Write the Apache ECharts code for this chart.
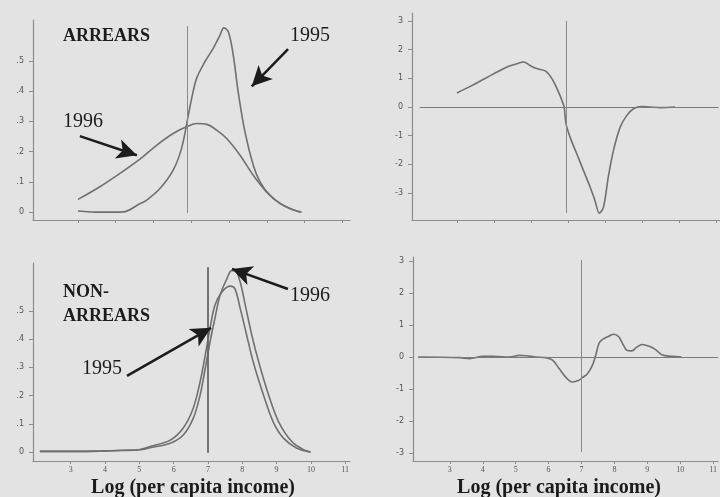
<!DOCTYPE html>
<html>
<head>
<meta charset="utf-8">
<script src="https://cdn.jsdelivr.net/npm/echarts@6/dist/echarts.min.js"></script>
<style>
  html, body { margin: 0; padding: 0; background: #e3e3e3; }
  #main { width: 720px; height: 497px; }
</style>
</head>
<body>
<div id="main"></div>
<script>
// density of log per capita income, [x, density]
var arrears1995 = [[3.0,0.004],[3.6,0.0],[4.2,0.001],[4.6,0.025],[4.82,0.04],[5.17,0.078],[5.52,0.139],[5.74,0.21],[5.92,0.32],[6.01,0.376],[6.14,0.442],[6.36,0.497],[6.58,0.541],[6.76,0.585],[6.86,0.609],[6.98,0.596],[7.11,0.519],[7.24,0.398],[7.42,0.265],[7.64,0.155],[7.82,0.1],[8.08,0.056],[8.43,0.023],[8.87,0.0]];
var arrears1996 = [[3.0,0.042],[3.58,0.084],[4.11,0.128],[4.64,0.175],[5.08,0.221],[5.52,0.26],[5.88,0.282],[6.14,0.293],[6.41,0.29],[6.67,0.271],[6.93,0.244],[7.29,0.188],[7.64,0.122],[7.99,0.067],[8.34,0.029],[8.7,0.007],[8.92,0.0]];
// 1996 minus 1995
var arrearsDiff = [[3.0,0.049],[3.36,0.072],[3.72,0.097],[4.08,0.122],[4.35,0.14],[4.62,0.151],[4.8,0.157],[4.97,0.145],[5.15,0.134],[5.38,0.126],[5.56,0.099],[5.74,0.052],[5.83,0.023],[5.89,0.0],[5.94,-0.058],[6.05,-0.105],[6.23,-0.163],[6.41,-0.221],[6.59,-0.279],[6.72,-0.326],[6.84,-0.37],[6.95,-0.349],[7.08,-0.244],[7.22,-0.151],[7.4,-0.07],[7.58,-0.029],[7.76,-0.006],[7.98,0.002],[8.21,0.0],[8.48,-0.002],[8.88,0.0]];

var nonArrears1995 = [[2.1,0.002],[3.0,0.002],[3.85,0.003],[4.5,0.006],[5.02,0.009],[5.31,0.019],[5.9,0.042],[6.28,0.085],[6.57,0.155],[6.77,0.248],[6.92,0.343],[7.06,0.438],[7.2,0.519],[7.4,0.566],[7.64,0.588],[7.78,0.58],[7.94,0.509],[8.13,0.413],[8.32,0.319],[8.62,0.201],[8.9,0.107],[9.2,0.049],[9.58,0.014],[9.97,0.0]];
var nonArrears1996 = [[2.1,0.002],[3.0,0.002],[3.85,0.003],[4.5,0.005],[5.02,0.008],[5.31,0.015],[5.9,0.031],[6.28,0.06],[6.57,0.119],[6.77,0.201],[6.92,0.296],[7.06,0.39],[7.2,0.472],[7.35,0.555],[7.55,0.614],[7.69,0.643],[7.79,0.643],[7.94,0.602],[8.09,0.519],[8.28,0.413],[8.48,0.319],[8.77,0.201],[9.06,0.107],[9.45,0.036],[9.84,0.005],[10.0,0.0]];
var nonArrearsDiff = [[2.04,0.0],[3.3,-0.002],[3.6,-0.005],[4.0,0.002],[4.31,0.002],[4.81,0.0],[5.11,0.005],[5.31,0.004],[5.62,0.0],[5.92,-0.002],[6.12,-0.01],[6.32,-0.036],[6.52,-0.063],[6.72,-0.078],[6.92,-0.073],[7.02,-0.065],[7.18,-0.052],[7.33,-0.026],[7.43,0.005],[7.53,0.042],[7.63,0.054],[7.83,0.065],[7.98,0.071],[8.13,0.063],[8.28,0.036],[8.38,0.021],[8.53,0.019],[8.68,0.031],[8.84,0.039],[9.04,0.034],[9.24,0.024],[9.44,0.007],[9.74,0.002],[10.04,0.0]];

// tick positions
var topXTicks = [3, 4, 5, 6, 7, 8, 9, 10];
var bottomXTicks = [3, 4, 5, 6, 7, 8, 9, 10, 11];
var densityTicks = [0, 0.1, 0.2, 0.3, 0.4, 0.5];
var diffTicks = [-0.3, -0.2, -0.1, 0, 0.1, 0.2, 0.3];

var chart = echarts.init(document.getElementById('main'), null, { renderer: 'canvas' });

var axisColor = '#8c8c8c';
var curveColor = '#707070';
var inkColor = '#1c1c1c';

function xAxisOf(idx, min, max, ticks, showLabel) {
  return {
    type: 'value', gridIndex: idx, min: min, max: max,
    splitLine: { show: false },
    axisLine: { show: true, onZero: false, lineStyle: { color: axisColor, width: 1.2 } },
    axisTick: { show: true, length: 3, customValues: ticks, lineStyle: { color: axisColor } },
    axisLabel: {
      show: showLabel, customValues: ticks, margin: 5,
      color: '#555', fontSize: 8, fontFamily: 'Liberation Serif'
    }
  };
}

function yAxisOf(idx, min, max, ticks, fmt) {
  return {
    type: 'value', gridIndex: idx, min: min, max: max,
    splitLine: { show: false },
    axisLine: { show: true, onZero: false, lineStyle: { color: axisColor, width: 1.2 } },
    axisTick: { show: true, length: 4, customValues: ticks, lineStyle: { color: axisColor } },
    axisLabel: {
      customValues: ticks, margin: 9, formatter: fmt,
      color: '#555', fontSize: 8, fontFamily: 'DejaVu Sans'
    }
  };
}

var densFmt = function (v) { return Math.abs(v) < 1e-9 ? '0' : '.' + Math.round(v * 10); };
var diffFmt = function (v) {
  if (Math.abs(v) < 1e-9) return '0';
  return (v < 0 ? '-' : '') + Math.round(Math.abs(v) * 10);
};

function arrow(from, to) {
  return [
    { coord: from, symbol: 'none', lineStyle: { color: inkColor, width: 2.5, type: 'solid' } },
    { coord: to, symbol: 'arrow', symbolSize: [15, 20] }
  ];
}
function refLine(from, to, w, c) {
  return [
    { coord: from, symbol: 'none', lineStyle: { color: c, width: w, type: 'solid' } },
    { coord: to, symbol: 'none' }
  ];
}

function curve(idx, data, marks) {
  var s = {
    type: 'line', xAxisIndex: idx, yAxisIndex: idx,
    data: data, smooth: 0.35, showSymbol: false, silent: true,
    lineStyle: { color: curveColor, width: 1.6 },
    animation: false
  };
  if (marks) {
    s.markLine = {
      silent: true, animation: false,
      symbol: ['none', 'none'],
      label: { show: false },
      itemStyle: { color: inkColor },
      data: marks
    };
  }
  return s;
}

function txt(x, y, s, weight, size, align) {
  return {
    type: 'text', x: x, y: y, silent: true,
    style: {
      text: s, fill: inkColor, align: align || 'left', verticalAlign: 'top',
      font: (weight || 'normal') + ' ' + (size || 19) + 'px "Liberation Serif", serif'
    }
  };
}

var option = {
  backgroundColor: '#e3e3e3',
  animation: false,
  grid: [
    { left: 33, top: 20, width: 317, height: 200 },
    { left: 412, top: 13, width: 308, height: 207 },
    { left: 33, top: 263, width: 317, height: 198 },
    { left: 413, top: 257, width: 307, height: 204 }
  ],
  xAxis: [
    xAxisOf(0, 1.81, 10.2, topXTicks, false),
    xAxisOf(1, 1.79, 10.09, topXTicks, false),
    xAxisOf(2, 1.9, 11.14, bottomXTicks, true),
    xAxisOf(3, 1.88, 11.15, bottomXTicks, true)
  ],
  yAxis: [
    yAxisOf(0, -0.026, 0.635, densityTicks, densFmt),
    yAxisOf(1, -0.394, 0.328, diffTicks, diffFmt),
    yAxisOf(2, -0.032, 0.67, densityTicks, densFmt),
    yAxisOf(3, -0.325, 0.3125, diffTicks, diffFmt)
  ],
  series: [
    curve(0, arrears1995, [
      refLine([5.88, 0.615], [5.88, -0.003], 1, '#8a8a8a'),
      arrow([8.56, 0.539], [7.6, 0.416]),
      arrow([3.05, 0.251], [4.56, 0.188])
    ]),
    curve(0, arrears1996),
    curve(1, arrearsDiff, [
      refLine([2.0, 0], [10.05, 0], 1, '#7a7a7a'),
      refLine([5.95, 0.3], [5.95, -0.37], 1, '#8a8a8a')
    ]),
    curve(2, nonArrears1995, [
      refLine([7.0, 0.655], [7.0, -0.003], 1.8, '#666'),
      arrow([9.33, 0.578], [7.7, 0.649]),
      arrow([4.64, 0.27], [7.09, 0.44])
    ]),
    curve(2, nonArrears1996),
    curve(3, nonArrearsDiff, [
      refLine([2.03, 0], [11.15, 0], 1, '#7a7a7a'),
      refLine([7.0, 0.303], [7.0, -0.297], 1, '#8a8a8a')
    ])
  ],
  graphic: [
    txt(63, 27, 'ARREARS', 'bold', 18),
    txt(290, 26, '1995', 'normal', 20),
    txt(63, 112, '1996', 'normal', 20),
    txt(63, 283, 'NON-', 'bold', 18),
    txt(63, 307, 'ARREARS', 'bold', 18),
    txt(290, 286, '1996', 'normal', 20),
    txt(82, 359, '1995', 'normal', 20),
    txt(193, 478, 'Log (per capita income)', 'bold', 20, 'center'),
    txt(559, 478, 'Log (per capita income)', 'bold', 20, 'center')
  ]
};

chart.setOption(option);
</script>
</body>
</html>
